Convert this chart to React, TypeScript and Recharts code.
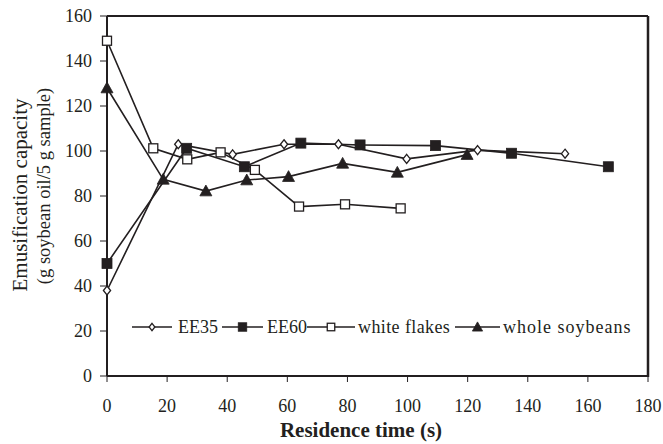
import React from "react";
import { LineChart, Line, XAxis, YAxis } from "recharts";

const ee35Time = [0, 23.7, 41.8, 58.9, 77, 99.7, 123.3, 152.4];
const ee35Value = [38, 103, 98.5, 103, 103, 96.5, 100.4, 98.8];
const ee60Time = [0, 26.5, 45.7, 64.5, 84.2, 109.3, 134.6, 166.8];
const ee60Value = [50, 101.2, 93, 103.5, 102.7, 102.4, 99, 93];
const flakesTime = [0, 15.4, 26.7, 37.8, 49.2, 63.9, 79.2, 97.7];
const flakesValue = [149, 101.2, 96.3, 99.4, 91.6, 75.3, 76.3, 74.5];
const wholeTime = [0, 18.7, 32.9, 46.5, 60.4, 78.4, 96.6, 119.8];
const wholeValue = [128, 87.4, 82.2, 87.1, 88.6, 94.5, 90.5, 98.4];

const seriesNames = ["EE35", "EE60", "white flakes", "whole soybeans"];
const xTicks = [0, 20, 40, 60, 80, 100, 120, 140, 160, 180];
const yTicks = [0, 20, 40, 60, 80, 100, 120, 140, 160];

const xTitle = "Residence time (s)";
const yTitle1 = "Emusification capacity";
const yTitle2 = "(g soybean oil/5 g sample)";

const zip = (xs: number[], ys: number[]) => xs.map((x, i) => ({ x, y: ys[i] }));
const ee35 = zip(ee35Time, ee35Value);
const ee60 = zip(ee60Time, ee60Value);
const flakes = zip(flakesTime, flakesValue);
const whole = zip(wholeTime, wholeValue);

const INK = "#231f20";
const FONT = "'Liberation Serif', 'Times New Roman', serif";

type Kind = "diamond" | "square" | "openSquare" | "triangle";

const Marker = ({ kind, cx, cy, s = 1 }: { kind: Kind; cx: number; cy: number; s?: number }) => {
  if (kind === "diamond") {
    const r = 4.5 * s;
    return (
      <polygon
        points={`${cx},${cy - r} ${cx + r * 0.8},${cy} ${cx},${cy + r} ${cx - r * 0.8},${cy}`}
        fill="#fff"
        stroke={INK}
        strokeWidth={1.3}
      />
    );
  }
  if (kind === "square") {
    const r = 5 * s;
    return <rect x={cx - r} y={cy - r} width={2 * r} height={2 * r} fill={INK} stroke={INK} strokeWidth={0.8} />;
  }
  if (kind === "openSquare") {
    const r = 5 * s;
    return <rect x={cx - r + 0.5} y={cy - r + 0.5} width={2 * r - 1} height={2 * r - 1} fill="#fff" stroke={INK} strokeWidth={1.3} />;
  }
  const r = 6 * s;
  return (
    <polygon
      points={`${cx},${cy - r} ${cx + r},${cy + r * 0.8} ${cx - r},${cy + r * 0.8}`}
      fill={INK}
      stroke={INK}
      strokeWidth={0.8}
    />
  );
};

const makeDot = (kind: Kind) => (props: any) => {
  const { cx, cy, index } = props;
  if (cx == null || cy == null) return <g key={index} />;
  return (
    <g key={`${kind}-${index}`}>
      <Marker kind={kind} cx={cx} cy={cy} />
    </g>
  );
};

const legendKinds: Kind[] = ["diamond", "square", "openSquare", "triangle"];
const legendLineStart = [132, 222, 307, 455];
const legendLineWidth = [40, 41, 48, 45];
const legendTextStart = [178, 267, 358, 503];
const legendSpacing = [0, 0, 0.4, 1];

const LegendOverlay = () => (
  <svg width={663} height={444} style={{ position: "absolute", left: 0, top: 0, pointerEvents: "none" }}>
    {seriesNames.map((name, i) => {
      const x0 = legendLineStart[i];
      const w = legendLineWidth[i];
      const cy = 327;
      return (
        <g key={name}>
          <line x1={x0} y1={cy} x2={x0 + w} y2={cy} stroke={INK} strokeWidth={1.6} />
          <Marker kind={legendKinds[i]} cx={x0 + w / 2} cy={cy} s={legendKinds[i] === "diamond" ? 0.8 : 0.85} />
          <text x={legendTextStart[i]} y={cy + 6} fontFamily={FONT} fontSize={18} fill={INK} letterSpacing={legendSpacing[i]}>
            {name}
          </text>
        </g>
      );
    })}
  </svg>
);

const YTitle = () => (
  <g>
    <text x={27} y={195} transform="rotate(-90, 27, 195)" textAnchor="middle" fontFamily={FONT} fontSize={21} fill={INK}>
      {yTitle1}
    </text>
    <text x={50} y={186} transform="rotate(-90, 50, 186)" textAnchor="middle" fontFamily={FONT} fontSize={18.5} fill={INK}>
      {yTitle2}
    </text>
  </g>
);

const XTitle = () => (
  <text x={361} y={437} textAnchor="middle" fontFamily={FONT} fontSize={21} fontWeight="bold" fill={INK}>
    {xTitle}
  </text>
);

export default function App() {
  return (
    <div style={{ position: "absolute", left: 0, top: 0, width: 663, height: 444, background: "#fff" }}>
      <LineChart width={663} height={444} margin={{ top: 16, right: 15, bottom: 28, left: 47 }}>
        <XAxis
          type="number"
          dataKey="x"
          domain={[0, 180]}
          ticks={xTicks}
          interval={0}
          height={40}
          tickSize={6}
          tickMargin={17}
          axisLine={{ stroke: INK, strokeWidth: 2 }}
          tickLine={{ stroke: INK, strokeWidth: 1 }}
          tick={{ fontFamily: FONT, fontSize: 18, fill: INK }}
          label={<XTitle />}
        />
        <YAxis
          type="number"
          domain={[0, 160]}
          ticks={yTicks}
          interval={0}
          width={60}
          tickSize={7}
          tickMargin={8}
          axisLine={{ stroke: INK, strokeWidth: 2 }}
          tickLine={{ stroke: INK, strokeWidth: 1 }}
          tick={{ fontFamily: FONT, fontSize: 18, fill: INK }}
          label={<YTitle />}
        />
        <Line data={ee35} dataKey="y" name={seriesNames[0]} type="linear" stroke={INK} strokeWidth={1.6} dot={makeDot("diamond")} activeDot={false} isAnimationActive={false} />
        <Line data={ee60} dataKey="y" name={seriesNames[1]} type="linear" stroke={INK} strokeWidth={1.6} dot={makeDot("square")} activeDot={false} isAnimationActive={false} />
        <Line data={flakes} dataKey="y" name={seriesNames[2]} type="linear" stroke={INK} strokeWidth={1.6} dot={makeDot("openSquare")} activeDot={false} isAnimationActive={false} />
        <Line data={whole} dataKey="y" name={seriesNames[3]} type="linear" stroke={INK} strokeWidth={1.6} dot={makeDot("triangle")} activeDot={false} isAnimationActive={false} />
      </LineChart>
      <svg width={663} height={444} style={{ position: "absolute", left: 0, top: 0, pointerEvents: "none" }}>
        <line x1={107} y1={16} x2={648} y2={16} stroke={INK} strokeWidth={2} />
        <line x1={648} y1={16} x2={648} y2={377} stroke={INK} strokeWidth={2.5} />
      </svg>
      <LegendOverlay />
    </div>
  );
}
